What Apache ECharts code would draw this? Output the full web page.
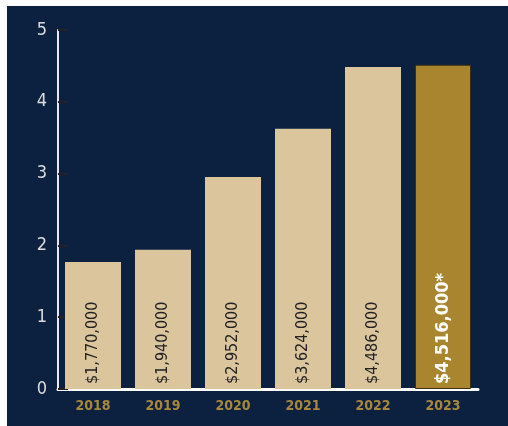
<!DOCTYPE html>
<html>
<head>
<meta charset="utf-8">
<script src="https://cdn.jsdelivr.net/npm/echarts@6/dist/echarts.min.js"></script>
<style>
  html, body { margin: 0; padding: 0; background: #0c2140; overflow: hidden; }
  #chart { position: absolute; left: 0; top: 0; width: 508px; height: 426px; }
  .edge { position: absolute; background: #fff; }
</style>
</head>
<body>
<div id="chart"></div>
<div class="edge" style="left:0;top:0;width:100%;height:6px"></div>
<div class="edge" style="left:0;top:0;width:7px;height:100%"></div>
<script>
// ==============================
// data
// ==============================
const years = ['2018', '2019', '2020', '2021', '2022', '2023'];
const amounts = [1.77, 1.94, 2.952, 3.624, 4.486, 4.516]; // millions
const amountLabels = ['$1,770,000', '$1,940,000', '$2,952,000', '$3,624,000', '$4,486,000', '$4,516,000*'];

const fontCond = '"DejaVu Sans Condensed", sans-serif';
const beige = '#dac59d';
const gold = '#a98530';

const chart = echarts.init(document.getElementById('chart'));

const barData = amounts.map((v, i) => {
  const last = i === amounts.length - 1;
  return {
    value: v,
    itemStyle: last
      ? { color: gold, borderColor: '#3a2f1a', borderWidth: 1 }
      : { color: beige },
    label: last
      ? { color: '#fff', fontWeight: 'bold', fontSize: 18, formatter: amountLabels[i] }
      : { color: '#222', fontSize: 16, formatter: amountLabels[i] }
  };
});

chart.setOption({
  animation: false,
  grid: { left: 58, right: 30, top: 30, bottom: 37 },
  xAxis: {
    type: 'category',
    data: years,
    axisLine: { show: true, lineStyle: { color: '#fff', width: 3 } },
    axisTick: { show: false },
    axisLabel: {
      color: '#a8873a',
      fontSize: 14,
      fontWeight: 'bold',
      fontFamily: fontCond,
      margin: 10
    }
  },
  yAxis: {
    type: 'value',
    min: 0,
    max: 5,
    interval: 1,
    axisLine: { show: true, lineStyle: { color: '#e8e8e8', width: 2 } },
    axisTick: { show: true, inside: true, length: 10, lineStyle: { color: '#222', width: 2 } },
    splitLine: { show: false },
    axisLabel: {
      color: '#dcdcdc',
      fontSize: 18,
      fontFamily: fontCond,
      margin: 11
    }
  },
  series: [{
    type: 'bar',
    data: barData,
    barCategoryGap: '20%',
    label: {
      show: true,
      position: 'insideBottom',
      rotate: 90,
      align: 'left',
      verticalAlign: 'middle',
      distance: 5,
      fontFamily: fontCond
    }
  }]
});
</script>
</body>
</html>
